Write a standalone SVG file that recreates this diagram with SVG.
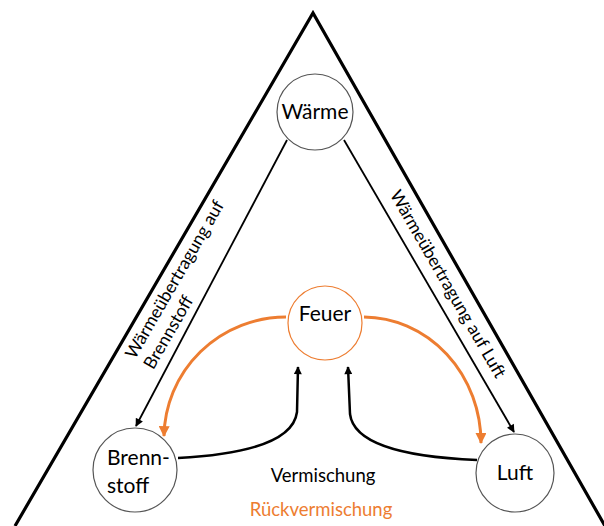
<svg xmlns="http://www.w3.org/2000/svg" width="604" height="526" viewBox="0 0 604 526">
<style>
  text { font-family: Lato, "Liberation Sans", sans-serif; fill: #000; }
  .node { fill: #fff; stroke: #555; stroke-width: 1.2; }
  .fire { fill: #fff; stroke: #ED7D31; stroke-width: 1.2; }
  .lbl { font-size: 21px; }
  .edge { font-size: 17.5px; }
  .blk { fill: none; stroke: #000; stroke-width: 1.8; }
  .blk2 { fill: none; stroke: #000; stroke-width: 2.5; }
  .org { fill: none; stroke: #ED7D31; stroke-width: 3; }
</style>
<defs>
  <marker id="ab" viewBox="0 0 10 10" refX="9" refY="5" markerWidth="9" markerHeight="8" markerUnits="userSpaceOnUse" orient="auto">
    <path d="M0,0 L10,5 L0,10 z" fill="#000"/>
  </marker>
  <marker id="ao" viewBox="0 0 10 10" refX="9" refY="5" markerWidth="12" markerHeight="11" markerUnits="userSpaceOnUse" orient="auto">
    <path d="M0,0 L10,5 L0,10 z" fill="#ED7D31"/>
  </marker>
</defs>
<g id="triangle">
  <path d="M15,526 L313,13 L605,526" fill="none" stroke="#000" stroke-width="3.2"/>
</g>
<g id="connectors">
  <path class="blk" d="M287,140 L136,426" marker-end="url(#ab)"/>
  <path class="blk" d="M344,140 L514,432" marker-end="url(#ab)"/>
  <path class="org" d="M286,317 A122 121 0 0 0 164,436" marker-end="url(#ao)"/>
  <path class="org" d="M364,317 A118 126 0 0 1 481,443" marker-end="url(#ao)"/>
  <path class="blk2" d="M178,458 Q292,452 297,412 L298,367" marker-end="url(#ab)"/>
  <path class="blk2" d="M477,460 Q355,455 350,414 L348,367" marker-end="url(#ab)"/>
</g>
<g id="waerme">
  <circle class="node" cx="315" cy="112" r="38"/>
  <text class="lbl" x="315" y="119" text-anchor="middle">Wärme</text>
</g>
<g id="feuer">
  <circle class="fire" cx="325" cy="323" r="37"/>
  <text class="lbl" x="325" y="321" text-anchor="middle">Feuer</text>
</g>
<g id="brennstoff">
  <circle class="node" cx="135" cy="470" r="42"/>
  <text class="lbl" x="107" y="465">Brenn-</text>
  <text class="lbl" x="107" y="493">stoff</text>
</g>
<g id="luft">
  <circle class="node" cx="515" cy="473" r="39"/>
  <text class="lbl" x="515" y="480" text-anchor="middle">Luft</text>
</g>
<g id="labels">
  <g transform="translate(135,360) rotate(-60)">
    <text class="edge" x="0" y="0">Wärmeübertragung auf</text>
    <text class="edge" x="0" y="21">Brennstoff</text>
  </g>
  <g transform="translate(448,284) rotate(60)">
    <text class="edge" x="0" y="6" text-anchor="middle">Wärmeübertragung auf Luft</text>
  </g>
  <text x="323" y="482" font-size="18.5" text-anchor="middle">Vermischung</text>
  <text x="321" y="516" font-size="18.5" text-anchor="middle" style="fill:#ED7D31">Rückvermischung</text>
</g>
</svg>
